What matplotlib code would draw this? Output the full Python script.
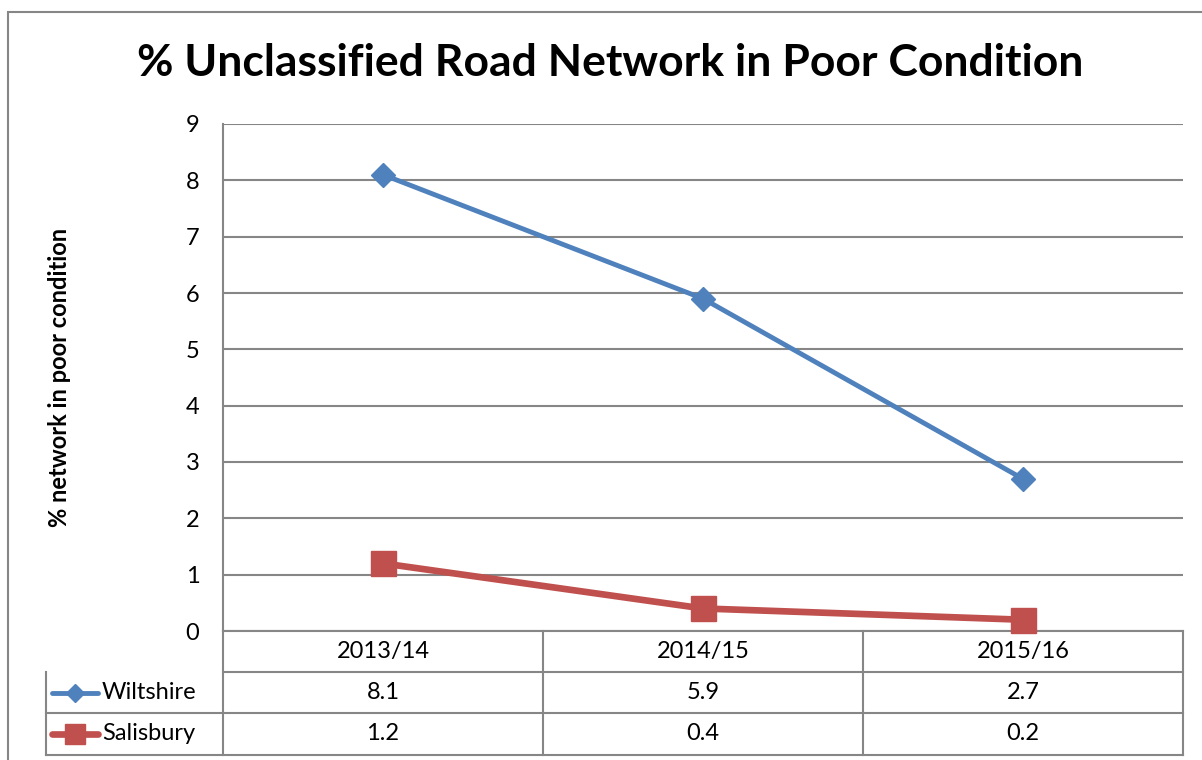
import matplotlib.pyplot as plt
from matplotlib.lines import Line2D
from matplotlib.patches import Rectangle

plt.rcParams['font.family'] = ['Lato', 'DejaVu Sans']

# Data
years = ['2013/14', '2014/15', '2015/16']
wiltshire = [8.1, 5.9, 2.7]
salisbury = [1.2, 0.4, 0.2]
series_names = ['Wiltshire', 'Salisbury']

blue = '#4F81BD'
red = '#C0504D'
grid_col = '#868686'

W, H = 1202, 760
fig = plt.figure(figsize=(W / 100, H / 100), dpi=100)

# outer chart border (extends past right/bottom edges like the screenshot)
fig.add_artist(Rectangle((8 / W, -0.1), 1.2, 1 - 12 / H + 0.1, transform=fig.transFigure,
                         fill=False, edgecolor=grid_col, linewidth=1.5))

ax = fig.add_axes([223 / W, 1 - 631 / H, 960 / W, 507 / H])
x = list(range(len(years)))

ax.plot(x, wiltshire, color=blue, linewidth=3.5, marker='D', markersize=12,
        solid_capstyle='round', zorder=3, clip_on=False)
ax.plot(x, salisbury, color=red, linewidth=4.8, marker='s', markersize=18,
        solid_capstyle='round', zorder=3, clip_on=False)

ax.set_xlim(-0.5, 2.5)
ax.set_ylim(0, 9)
ax.set_yticks(range(0, 10))
ax.yaxis.grid(True, color=grid_col, linewidth=1.5)
ax.set_axisbelow(True)
ax.set_xticks([])
for s in ['top', 'right']:
    ax.spines[s].set_visible(False)
ax.spines['left'].set_color(grid_col)
ax.spines['left'].set_linewidth(1.5)
ax.spines['bottom'].set_color(grid_col)
ax.spines['bottom'].set_linewidth(1.5)
ax.tick_params(axis='y', length=0, labelsize=17, pad=17)

ax.set_ylabel('% network in poor condition', fontsize=17, fontweight='bold')
ax.yaxis.set_label_coords(-152 / 960, 0.5)

fig.text(0.508, 1 - 63 / H, '% Unclassified Road Network in Poor Condition',
         ha='center', va='center', fontsize=32, fontweight='bold')

# data table below the axes
tr = ax.get_xaxis_transform()
ah = 507
y_hdr = -41 / ah
y_r1 = -82 / ah
y_r2 = -124 / ah
x_leg = -0.5 - 177 / 320
lw = 1.5
kw = dict(transform=tr, color=grid_col, linewidth=lw, clip_on=False)

ax.add_line(Line2D([-0.5, 2.5], [y_hdr, y_hdr], **kw))
ax.add_line(Line2D([x_leg, 2.5], [y_r1, y_r1], **kw))
ax.add_line(Line2D([x_leg, 2.5], [y_r2, y_r2], **kw))
for xb in [-0.5, 0.5, 1.5, 2.5]:
    ax.add_line(Line2D([xb, xb], [0, y_r2], **kw))
ax.add_line(Line2D([x_leg, x_leg], [y_hdr, y_r2], **kw))

for i, yr in enumerate(years):
    ax.text(i, y_hdr / 2, yr, transform=tr, ha='center', va='center', fontsize=17)

rows = [(series_names[0], wiltshire, blue, 'D', 9, 3.5), (series_names[1], salisbury, red, 's', 14, 4.8)]
row_tops = [y_hdr, y_r1]
row_bots = [y_r1, y_r2]
for (name, vals, col, mk, ms, lwd), yt, yb in zip(rows, row_tops, row_bots):
    yc = (yt + yb) / 2
    for i, v in enumerate(vals):
        ax.text(i, yc, f'{v:.1f}', transform=tr, ha='center', va='center', fontsize=17)
    x0 = x_leg + 6 / 320
    x1 = x_leg + 52 / 320
    ax.add_line(Line2D([x0, x1], [yc, yc], transform=tr, color=col, linewidth=lwd,
                       solid_capstyle='round', clip_on=False))
    ax.add_line(Line2D([(x0 + x1) / 2], [yc], transform=tr, color=col, marker=mk,
                       markersize=ms, linestyle='none', clip_on=False))
    ax.text(x_leg + 56 / 320, yc, name, transform=tr, ha='left', va='center', fontsize=17)

fig.savefig('out.png', dpi=100)
